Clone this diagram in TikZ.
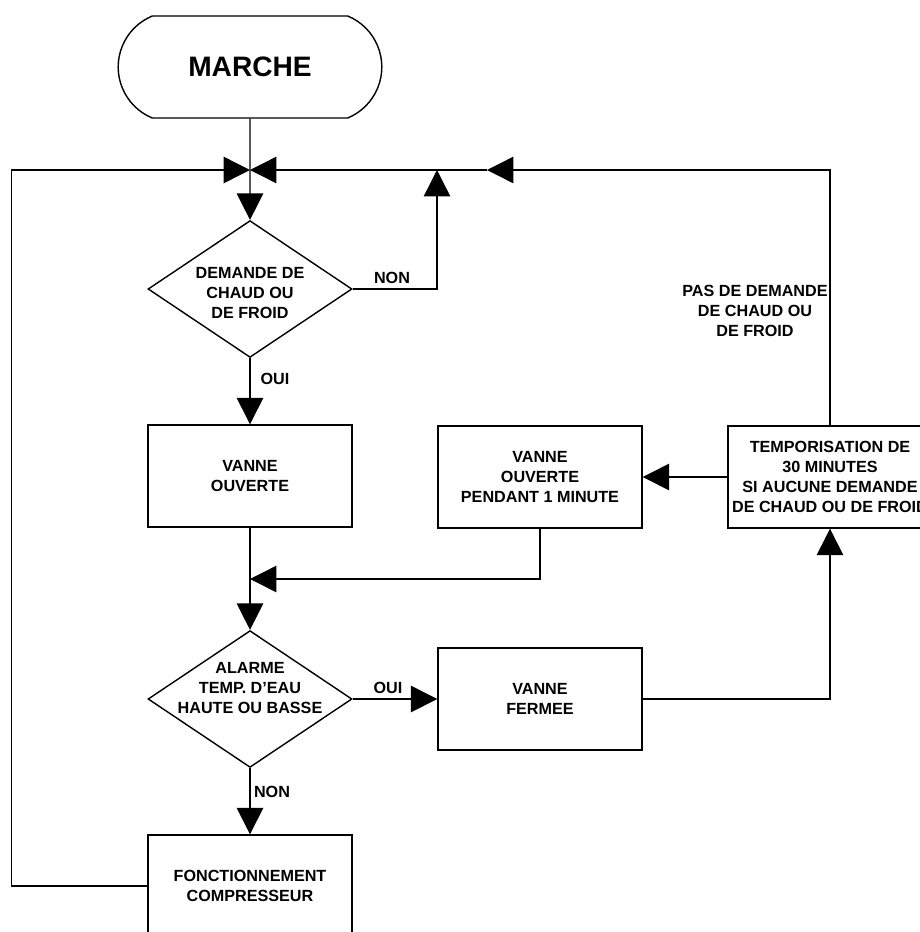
\documentclass[tikz,border=0pt]{standalone}
\usepackage{fontspec}
\setmainfont{Liberation Sans}
\usetikzlibrary{arrows.meta,shapes.geometric,shapes.misc}

\begin{document}
\begin{tikzpicture}[x=0.25mm,y=-0.25mm,line width=1pt,
  every node/.style={font=\bfseries\fontsize{11.5}{14.2}\selectfont,align=center},
  box/.style={draw,fill=white,minimum width=51mm,minimum height=25.5mm,inner sep=0pt},
  decision/.style={draw,diamond,fill=white,minimum width=51mm,minimum height=34.2mm,inner sep=0pt},
  startstop/.style={draw,rounded rectangle,rounded rectangle arc length=135,
    minimum width=68.25mm,minimum height=25.5mm,font=\bfseries\fontsize{20}{24}\selectfont},
  arr/.style={-{Triangle[length=6.6mm,width=6.6mm]}}]
\clip (0,0) rectangle (920,932);
% ---- main column ----
\node[startstop] (marche) at (250,67) {MARCHE};
\node[decision] (dem) at (250,289) {};
\node (demtxt) at (250,293) {DEMANDE DE\\CHAUD OU\\DE FROID};
\node[box] (vo) at (250,476) {VANNE\\OUVERTE};
\node[decision] (alarme) at (250,699) {};
\node (alarmetxt) at (250,688) {ALARME\\TEMP. D'EAU\\HAUTE OU BASSE};
\node[box] (comp) at (250,886) {FONCTIONNEMENT\\COMPRESSEUR};
% ---- right side ----
\node[box] (pend) at (540,477) {VANNE\\OUVERTE\\PENDANT 1 MINUTE};
\node[box] (tempo) at (830,477) {TEMPORISATION DE\\30 MINUTES\\SI AUCUNE DEMANDE\\DE CHAUD OU DE FROID};
\node[box] (vf) at (540,699) {VANNE\\FERMEE};
% ---- junction points ----
\coordinate (top) at (250,170);
\coordinate (topmid) at (487,170);
\coordinate (nonup) at (437,170);
\coordinate (merge) at (250,579);
% ---- connectors ----
\draw[arr] (marche) -- (dem);
\draw[arr] (comp.west) -- ++(-136,0) |- (top);
\draw[arr] (tempo.north) |- (topmid);
\draw[arr] (topmid) -- (top);
\draw[arr] (dem.east) -| (nonup);
\draw[arr] (dem) -- (vo);
\draw[arr] (tempo) -- (pend);
\draw[arr] (pend.south) |- (merge);
\draw[arr] (vo) -- (alarme);
\draw[arr] (alarme) -- (vf);
\draw[arr] (vf.east) -| (tempo.south);
\draw[arr] (alarme) -- (comp);
% ---- labels ----
\node (non1) at (392,278) {NON};
\node (oui1) at (275,379) {OUI};
\node (oui2) at (388,688) {OUI};
\node (non2) at (272,792) {NON};
\node (pasdem) at (755,311) {PAS DE DEMANDE\\DE CHAUD OU\\DE FROID};
\end{tikzpicture}
\end{document}
